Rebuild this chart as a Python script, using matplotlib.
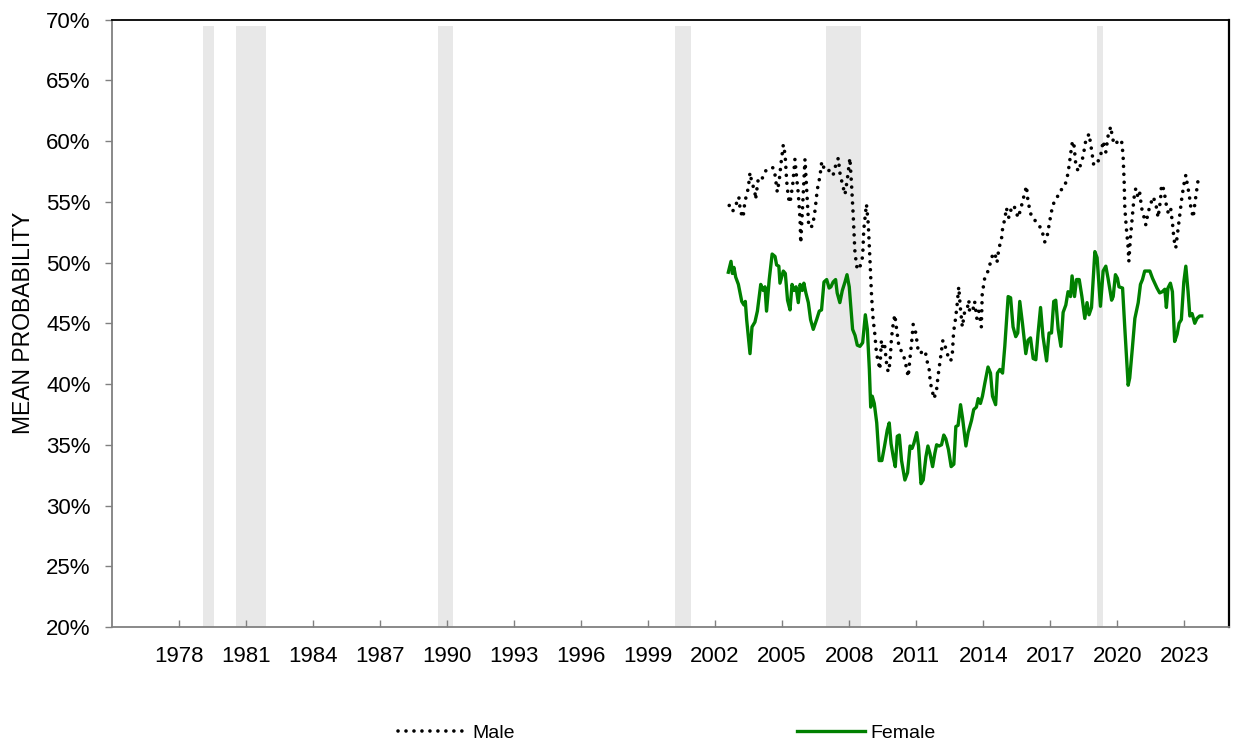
import matplotlib.pyplot as plt
from matplotlib.ticker import FuncFormatter

plt.rcParams['font.family'] = ['Liberation Sans', 'DejaVu Sans']

# Datos (fecha en anos decimales, probabilidad media en %)
male_t = [2003.55, 2003.70, 2003.84, 2003.98, 2004.05, 2004.17, 2004.25, 2004.40, 2004.48, 2004.55,
          2004.70, 2004.73, 2004.85, 2005.00, 2005.15, 2005.37, 2005.52, 2005.60, 2005.70, 2005.79,
          2005.87, 2005.97, 2006.05, 2006.12, 2006.20, 2006.27, 2006.39, 2006.49, 2006.57, 2006.64,
          2006.72, 2006.75, 2006.94, 2007.11, 2007.28, 2007.39, 2007.49, 2007.61, 2007.69, 2007.76,
          2007.88, 2008.06, 2008.20, 2008.28, 2008.43, 2008.50, 2008.62, 2008.73, 2008.83, 2008.92,
          2008.95, 2009.02, 2009.10, 2009.17, 2009.25, 2009.32, 2009.43, 2009.52, 2009.57, 2009.69,
          2009.77, 2009.84, 2009.92, 2009.99, 2010.06, 2010.14, 2010.29, 2010.36, 2010.44, 2010.51,
          2010.59, 2010.66, 2010.74, 2010.81, 2010.89, 2010.96, 2011.04, 2011.15, 2011.26, 2011.41,
          2011.48, 2011.56, 2011.63, 2011.71, 2011.78, 2011.90, 2012.00, 2012.11, 2012.22, 2012.34,
          2012.40, 2012.49, 2012.55, 2012.64, 2012.71, 2012.82, 2012.89, 2013.00, 2013.11, 2013.23,
          2013.34, 2013.46, 2013.53, 2013.59, 2013.67, 2013.74, 2013.82, 2013.89, 2013.98, 2014.08,
          2014.19, 2014.27, 2014.30, 2014.43, 2014.53, 2014.63, 2014.72, 2014.83, 2014.87, 2014.98,
          2015.13, 2015.24, 2015.33, 2015.43, 2015.53, 2015.62, 2015.73, 2015.80, 2015.88, 2015.95,
          2016.06, 2016.18, 2016.28, 2016.37, 2016.47, 2016.58, 2016.67, 2016.77, 2016.85, 2016.92,
          2017.07, 2017.22, 2017.37, 2017.52, 2017.67, 2017.77, 2017.89, 2017.97, 2018.04, 2018.19,
          2018.34, 2018.49, 2018.64, 2018.71, 2018.76, 2018.83, 2018.91, 2018.98, 2019.05, 2019.16,
          2019.26, 2019.38, 2019.50, 2019.65, 2019.76, 2019.86, 2020.01, 2020.16, 2020.28, 2020.40,
          2020.50, 2020.62, 2020.70, 2020.80, 2020.95, 2021.10, 2021.17, 2021.22, 2021.25, 2021.32,
          2021.40, 2021.43, 2021.50, 2021.59, 2021.66, 2021.74, 2021.85, 2021.92, 2022.00, 2022.10,
          2022.19, 2022.29, 2022.40, 2022.52, 2022.64, 2022.74, 2022.85, 2022.89, 2023.00, 2023.09,
          2023.19, 2023.30, 2023.39, 2023.45, 2023.53, 2023.61, 2023.71, 2023.80, 2023.89, 2023.98,
          2024.05, 2024.13, 2024.20, 2024.31, 2024.38, 2024.46, 2024.53, 2024.58]
male_pct = [54.7, 54.2, 54.7, 55.4, 54.2, 53.7, 55.0, 56.1, 57.4, 56.7,
            55.8, 55.2, 56.9, 56.8, 57.5, 57.8, 57.8, 57.2, 55.8, 56.8,
            58.2, 59.7, 58.9, 56.7, 55.3, 54.9, 56.4, 58.5, 56.9, 55.7,
            53.5, 51.6, 58.5, 52.9, 53.0, 54.3, 56.0, 57.1, 58.3, 57.9,
            57.5, 57.6, 57.2, 57.8, 58.6, 57.4, 56.4, 55.6, 56.8, 58.2,
            58.6, 56.5, 53.8, 51.0, 49.7, 49.4, 49.8, 50.5, 52.7, 54.8,
            53.2, 50.5, 47.2, 45.3, 44.2, 42.5, 41.2, 43.6, 42.8, 43.1,
            41.7, 41.0, 41.7, 43.8, 45.0, 45.7, 44.5, 43.0, 42.7, 42.0,
            41.3, 40.6, 42.0, 43.4, 44.9, 44.2, 42.8, 42.5, 42.8, 42.5,
            41.9, 41.3, 40.1, 39.4, 38.8, 39.4, 40.6, 42.1, 43.6, 43.0,
            42.3, 41.9, 42.4, 44.3, 45.3, 46.4, 48.0, 46.3, 44.7, 45.9,
            46.1, 46.9, 46.1, 45.9, 46.8, 45.4, 46.0, 44.7, 47.4, 48.7,
            49.3, 50.0, 50.6, 50.8, 50.0, 51.2, 51.9, 53.1, 53.5, 54.5,
            53.7, 54.5, 54.7, 54.3, 53.7, 54.3, 55.0, 55.7, 56.3, 55.0,
            53.8, 53.5, 53.1, 52.8, 51.7, 52.1, 53.4, 54.2, 54.8, 55.2,
            55.9, 56.1, 56.7, 57.4, 58.0, 59.0, 60.0, 59.6, 58.2, 57.5,
            58.0, 58.7, 60.0, 60.6, 59.3, 58.0, 58.2, 58.7, 60.0, 59.1,
            60.4, 61.2, 60.2, 59.7, 60.0, 60.1, 58.9, 56.7, 54.5, 52.8,
            51.2, 50.1, 52.0, 53.9, 55.3, 56.1, 55.3, 55.7, 54.5, 53.8,
            53.1, 54.1, 54.8, 55.4, 54.8, 53.7, 55.2, 56.4, 56.0, 54.9,
            54.1, 54.5, 53.1, 51.9, 51.2, 52.4, 53.9, 55.3, 56.4, 57.2,
            56.4, 55.6, 54.6, 53.7, 54.8, 55.9, 56.8, 57.0]

female_t = [2003.51, 2003.63, 2003.69, 2003.76, 2003.84, 2003.96, 2004.11, 2004.21, 2004.27, 2004.33,
            2004.48, 2004.57, 2004.70, 2004.81, 2004.96, 2005.07, 2005.15, 2005.22, 2005.34, 2005.47,
            2005.60, 2005.67, 2005.77, 2005.82, 2005.97, 2006.06, 2006.16, 2006.27, 2006.36, 2006.45,
            2006.54, 2006.64, 2006.72, 2006.82, 2006.89, 2006.98, 2007.09, 2007.19, 2007.31, 2007.46,
            2007.58, 2007.68, 2007.79, 2007.91, 2008.02, 2008.10, 2008.20, 2008.31, 2008.38, 2008.50,
            2008.61, 2008.73, 2008.82, 2008.92, 2009.07, 2009.18, 2009.28, 2009.40, 2009.52, 2009.64,
            2009.73, 2009.82, 2009.88, 2009.95, 2010.04, 2010.15, 2010.26, 2010.38, 2010.50, 2010.62,
            2010.71, 2010.79, 2010.89, 2010.98, 2011.07, 2011.16, 2011.26, 2011.41, 2011.53, 2011.64,
            2011.73, 2011.81, 2011.94, 2012.02, 2012.13, 2012.23, 2012.35, 2012.44, 2012.53, 2012.65,
            2012.75, 2012.83, 2012.94, 2013.05, 2013.15, 2013.24, 2013.36, 2013.48, 2013.60, 2013.69,
            2013.79, 2013.90, 2013.99, 2014.14, 2014.24, 2014.39, 2014.49, 2014.61, 2014.69, 2014.79,
            2014.88, 2014.99, 2015.13, 2015.24, 2015.33, 2015.47, 2015.55, 2015.66, 2015.78, 2015.88,
            2016.03, 2016.14, 2016.25, 2016.37, 2016.46, 2016.55, 2016.67, 2016.82, 2016.92, 2017.03,
            2017.15, 2017.27, 2017.37, 2017.48, 2017.59, 2017.75, 2017.86, 2017.97, 2018.07, 2018.16,
            2018.27, 2018.39, 2018.49, 2018.61, 2018.71, 2018.82, 2018.89, 2019.00, 2019.09, 2019.21,
            2019.33, 2019.46, 2019.56, 2019.65, 2019.76, 2019.91, 2020.01, 2020.16, 2020.28, 2020.40,
            2020.50, 2020.66, 2020.73, 2020.83, 2020.92, 2020.99, 2021.15, 2021.25, 2021.40, 2021.47,
            2021.59, 2021.70, 2021.85, 2021.95, 2022.04, 2022.14, 2022.25, 2022.37, 2022.49, 2022.59,
            2022.69, 2022.81, 2022.93, 2023.04, 2023.11, 2023.18, 2023.29, 2023.38, 2023.48, 2023.59,
            2023.68, 2023.78, 2023.89, 2023.98, 2024.08, 2024.16, 2024.26, 2024.38, 2024.48, 2024.60,
            2024.69]
female_pct = [49.2, 50.1, 49.1, 49.6, 48.8, 48.2, 46.8, 46.5, 46.8, 45.3,
              42.5, 44.7, 45.1, 46.0, 48.2, 47.7, 48.0, 46.0, 48.6, 50.7,
              50.5, 49.8, 49.7, 48.3, 49.3, 49.1, 46.9, 46.1, 48.2, 47.7,
              48.0, 46.7, 48.2, 47.7, 48.3, 47.5, 46.7, 45.3, 44.5, 45.3,
              46.0, 46.1, 48.4, 48.6, 47.9, 48.0, 48.4, 48.6, 47.5, 46.7,
              47.7, 48.4, 49.0, 48.0, 44.5, 44.0, 43.2, 43.1, 43.4, 45.7,
              44.5, 41.2, 38.1, 39.0, 38.4, 36.8, 33.7, 33.7, 34.9, 36.2,
              36.8, 35.1, 34.0, 33.2, 35.7, 35.8, 33.7, 32.1, 32.7, 34.9,
              34.7, 35.1, 36.0, 34.9, 31.8, 32.1, 34.0, 34.9, 34.3, 33.2,
              34.3, 35.0, 34.9, 35.0, 35.8, 35.5, 34.6, 33.2, 33.4, 36.5,
              36.6, 38.3, 37.2, 34.9, 36.0, 37.0, 37.9, 38.1, 38.8, 38.4,
              39.0, 40.1, 41.4, 40.9, 39.0, 38.3, 40.9, 41.2, 40.9, 43.1,
              47.2, 47.1, 44.7, 43.9, 44.2, 46.8, 45.0, 42.5, 43.6, 43.8,
              42.1, 42.0, 44.2, 46.3, 43.9, 41.9, 44.2, 44.2, 46.8, 46.9,
              44.5, 43.1, 45.9, 46.5, 47.6, 47.2, 48.9, 47.2, 48.6, 48.6,
              47.2, 45.4, 46.7, 45.7, 46.3, 50.9, 50.4, 46.4, 49.3, 49.7,
              48.7, 46.9, 47.2, 49.0, 48.7, 48.0, 47.9, 44.6, 39.9, 40.5,
              43.0, 45.4, 46.7, 48.2, 48.6, 49.3, 49.3, 49.3, 48.7, 48.3,
              47.9, 47.5, 47.6, 47.8, 46.3, 47.9, 48.3, 47.6, 43.5, 44.1,
              45.0, 45.3, 48.4, 49.7, 47.6, 45.6, 45.8, 45.0, 45.4, 45.6,
              45.6]

# Recesiones (inicio, fin) en anos decimales
recesiones = [(1980.00, 1980.50), (1981.50, 1982.83), (1990.50, 1991.17),
              (2001.12, 2001.84), (2007.90, 2009.45), (2020.00, 2020.29)]
techo_recesion = 69.5

# Etiquetas del eje x (cada 3 anos, marcadas en diciembre)
anos_etiqueta = list(range(1978, 2024, 3))

fig = plt.figure(figsize=(12.37, 7.43), dpi=100)
ax = fig.add_axes([0.0903, 0.1561, 0.9032, 0.8176])

for ini, fin in recesiones:
    ax.fill_between([ini, fin], 20, techo_recesion, color='#e8e8e8', lw=0, zorder=0)

ax.plot(male_t, male_pct, color='black', lw=2.6, linestyle=(0, (0.01, 2.2)),
        dash_capstyle='round', label='Male', zorder=3)
ax.plot(female_t, female_pct, color='#008000', lw=2.4, label='Female', zorder=2)

ax.set_xlim(1975.92, 2025.91)
ax.set_ylim(20, 70)
ax.set_yticks(range(20, 71, 5))
ax.yaxis.set_major_formatter(FuncFormatter(lambda v, p: f'{v:.0f}%'))
ax.set_xticks([a + 0.917 for a in anos_etiqueta])
ax.set_xticklabels([str(a) for a in anos_etiqueta])

ax.tick_params(axis='x', direction='in', length=5, width=1, color='#808080',
               labelsize=16, pad=14)
ax.tick_params(axis='y', direction='out', length=5, width=1, color='#808080',
               labelsize=16, pad=10)

ax.spines['top'].set_color('black')
ax.spines['right'].set_color('black')
ax.spines['right'].set_linewidth(1.6)
ax.spines['top'].set_linewidth(1.3)
ax.spines['left'].set_color('#808080')
ax.spines['bottom'].set_color('#808080')
ax.spines['left'].set_linewidth(1.3)
ax.spines['bottom'].set_linewidth(1.3)

ax.set_ylabel('MEAN PROBABILITY', fontsize=16.5, labelpad=8)

fig.legend(loc='center', bbox_to_anchor=(667 / 1237, 10 / 743), ncol=2,
           frameon=False, fontsize=14, handlelength=3.5, handletextpad=0.3,
           columnspacing=14.5)

fig.savefig('out.png', dpi=100)
